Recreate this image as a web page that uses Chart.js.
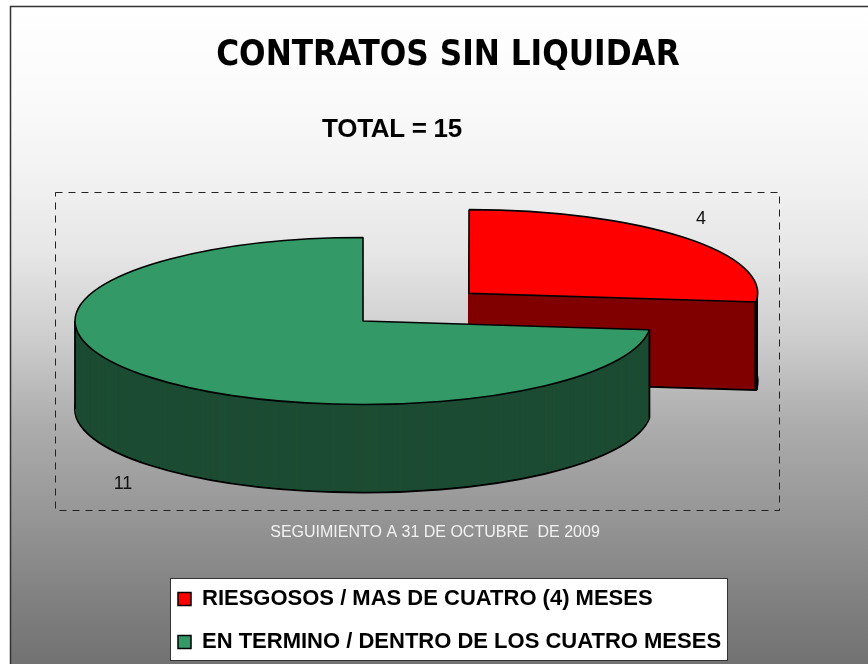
<!DOCTYPE html>
<html><head><meta charset="utf-8">
<style>html,body{margin:0;padding:0;background:#fff;overflow:hidden}canvas{display:block}</style>
<script src="https://cdn.jsdelivr.net/npm/chart.js@4"></script>
</head><body><canvas id="c" width="868" height="664"></canvas>
<script>
const chartTitle = 'CONTRATOS SIN LIQUIDAR';
const totalLabel = 'TOTAL = 15';
const footerLabel = 'SEGUIMIENTO A 31 DE OCTUBRE  DE 2009';
const categories = ['RIESGOSOS / MAS DE CUATRO (4) MESES', 'EN TERMINO / DENTRO DE LOS CUATRO MESES'];
const seriesValues = [4, 11];
const topColors = ['#FF0000', '#339966'];
const wallColors = ['#800000', '#1C4C33'];
const sliceOffsets = [570, 0];

const PIE_X = 363, PIE_Y = 321, SQUASH = 0.29, DEPTH = 88;
const GRADIENT_STOPS = [[6, 255], [42, 253], [100, 250], [169, 243], [254, 230], [339, 205], [423, 173], [508, 152], [593, 130], [664, 114]];

function withScreenStroke(ctx, fn) {
  const orig = ctx.stroke;
  ctx.stroke = function () {
    const t = ctx.getTransform();
    ctx.setTransform(1, 0, 0, 1, 0, 0);
    orig.call(ctx);
    ctx.setTransform(t);
  };
  fn();
  delete ctx.stroke;
}
function place(ctx, el, dy) {
  ctx.translate(PIE_X, PIE_Y + dy);
  ctx.scale(1, SQUASH);
  ctx.translate(-el.x, -el.y);
}
function drawArc(ctx, el, dy, color, bw) {
  const saved = el.options;
  el.options = Object.assign({}, saved, { backgroundColor: color, borderWidth: bw, borderColor: '#000' });
  ctx.save();
  place(ctx, el, dy);
  withScreenStroke(ctx, () => el.draw(ctx));
  ctx.restore();
  el.options = saved;
}
function drawEdges(ctx, el) {
  const off = (el.options.offset || 0) / 4;
  const half = (el.startAngle + el.endAngle) / 2;
  const cx = el.x + Math.cos(half) * off, cy = el.y + Math.sin(half) * off;
  const TAU = Math.PI * 2;
  const R = el.outerRadius;
  const segs = [el.startAngle, el.endAngle].filter(a => Math.sin(a) > 0).map(a => [a, Math.sin(a)]);
  for (const k of [0, 0.5, 1]) {
    const a = k * TAU;
    const inside = (el.startAngle <= a && a <= el.endAngle) || (el.startAngle <= a - TAU && a - TAU <= el.endAngle);
    if (inside) segs.push([a, Math.max(0, Math.sin(el.endAngle) * (k === 0.5 ? 0 : 1))]);
  }
  ctx.save();
  place(ctx, el, 0);
  ctx.strokeStyle = '#000';
  ctx.lineWidth = 1.8;
  withScreenStroke(ctx, () => {
    for (const [a, s] of segs) {
      const px = cx + Math.cos(a) * R, py = cy + Math.sin(a) * R;
      ctx.beginPath();
      ctx.moveTo(px, py);
      ctx.lineTo(px, cy + s * R + DEPTH / SQUASH);
      ctx.stroke();
    }
  });
  ctx.restore();
}

const pie3d = {
  id: 'pie3d',
  beforeDraw(chart) {
    const { ctx, width, height, legend } = chart;
    ctx.save();
    ctx.fillStyle = '#fff';
    ctx.fillRect(0, 0, width, height);
    const g = ctx.createLinearGradient(0, 6, 0, height);
    GRADIENT_STOPS.forEach(s => g.addColorStop((s[0] - 6) / (height - 6), `rgb(${s[1]},${s[1]},${s[1]})`));
    ctx.fillStyle = g;
    ctx.fillRect(10, 6, width - 10, height - 6);
    ctx.strokeStyle = '#333';
    ctx.lineWidth = 1.5;
    ctx.beginPath();
    ctx.moveTo(10.5, height); ctx.lineTo(10.5, 6.5); ctx.lineTo(width, 6.5);
    ctx.stroke();
    ctx.lineWidth = 1;
    ctx.strokeStyle = '#222';
    ctx.setLineDash([7, 6]);
    ctx.strokeRect(55.5, 192.5, 724, 318);
    ctx.setLineDash([]);
    ctx.fillStyle = '#fff';
    ctx.strokeStyle = '#333';
    ctx.fillRect(170.5, 578.5, 557, 82);
    ctx.strokeRect(170.5, 578.5, 557, 82);
    ctx.restore();
    legend.left = 157; legend.right = 760; legend.top = 567; legend.bottom = 720;
  },
  beforeDatasetsDraw(chart) {
    const { ctx } = chart;
    const arcs = chart.getDatasetMeta(0).data;
    arcs.forEach((el, i) => {
      drawArc(ctx, el, DEPTH, wallColors[i], 2);
      for (let d = DEPTH - 1; d >= 1; d--) drawArc(ctx, el, d, wallColors[i], 0);
      drawEdges(ctx, el);
      drawArc(ctx, el, 0, topColors[i], 1.6);
    });
    return false;
  },
  afterDraw(chart) {
    const { ctx } = chart;
    ctx.save();
    ctx.textBaseline = 'middle';
    ctx.textAlign = 'center';
    ctx.fillStyle = '#000';
    ctx.font = 'bold 26px "Liberation Sans"';
    ctx.letterSpacing = '-0.3px';
    ctx.fillText(totalLabel, 392, 130);
    ctx.letterSpacing = '0px';
    ctx.font = '16px "Liberation Sans"';
    ctx.fillStyle = '#f2f2f2';
    ctx.fillText(footerLabel, 435, 533);
    ctx.fillStyle = '#111';
    ctx.font = '18px "Liberation Sans"';
    ctx.fillText(String(seriesValues[0]), 701, 219);
    ctx.fillText(String(seriesValues[1]), 123, 484);
    ctx.restore();
  }
};

new Chart(document.getElementById('c'), {
  type: 'pie',
  data: {
    labels: categories,
    datasets: [{
      data: seriesValues,
      backgroundColor: topColors,
      borderColor: '#000',
      borderWidth: 1.5,
      offset: sliceOffsets,
      radius: 288
    }]
  },
  plugins: [pie3d],
  options: {
    responsive: false,
    animation: false,
    events: [],
    radius: 288,
    layout: { padding: { left: 28 } },
    plugins: {
      tooltip: { enabled: false },
      title: {
        display: true,
        text: chartTitle,
        color: '#000',
        font: { family: '"DejaVu Sans Condensed", "DejaVu Sans"', weight: 'bold', size: 34.7 },
        padding: { top: 35, bottom: 10 }
      },
      legend: {
        position: 'chartArea',
        align: 'start',
        labels: {
          color: '#000',
          font: { family: '"Liberation Sans"', weight: 'bold', size: 22 },
          boxWidth: 13,
          boxHeight: 13,
          padding: 21
        }
      }
    }
  }
});
</script></body></html>
